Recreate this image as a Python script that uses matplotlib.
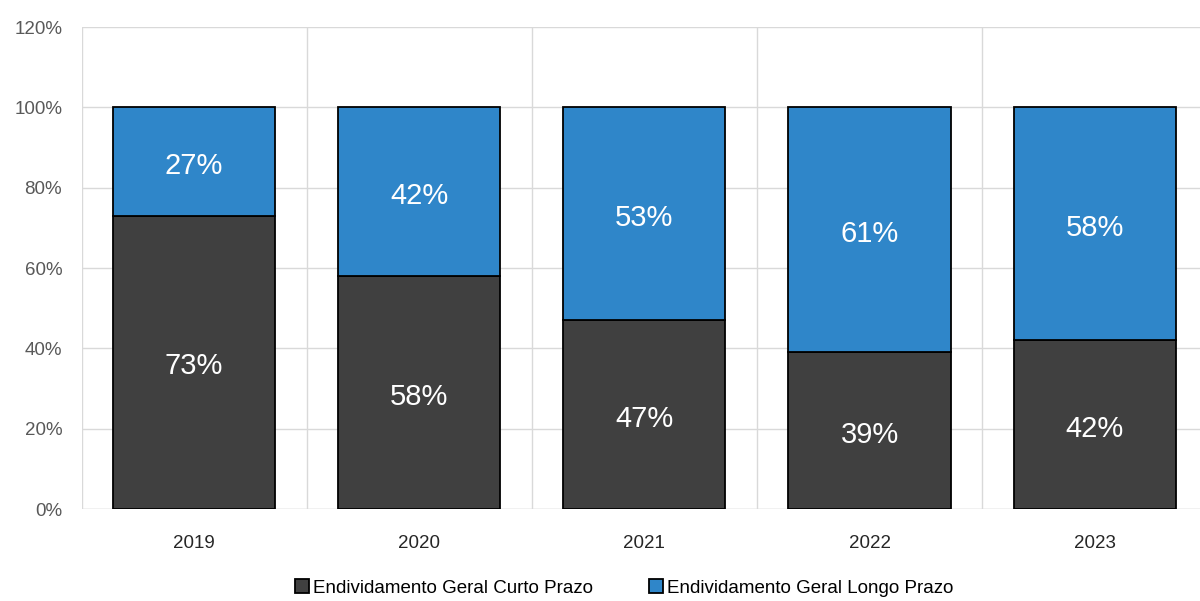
import matplotlib.pyplot as plt
import numpy as np

plt.rcParams['font.family'] = ['Liberation Sans', 'DejaVu Sans']

anos = ['2019', '2020', '2021', '2022', '2023']
curto = [73, 58, 47, 39, 42]
longo = [27, 42, 53, 61, 58]
cor_curto = '#404040'
cor_longo = '#2f86c9'

fig = plt.figure(figsize=(12, 6.01), dpi=100)
ax = fig.add_axes([0.068, 0.153, 0.938, 0.802])

x = np.arange(len(anos))
ax.bar(x, curto, width=0.72, color=cor_curto, edgecolor='black', linewidth=1.3,
       label='Endividamento Geral Curto Prazo', zorder=3)
ax.bar(x, longo, width=0.72, bottom=curto, color=cor_longo, edgecolor='black', linewidth=1.3,
       label='Endividamento Geral Longo Prazo', zorder=3)

for i in range(len(anos)):
    ax.text(x[i], curto[i] / 2 - 1, f'{curto[i]}%', ha='center', va='center',
            color='white', fontsize=21, zorder=4)
    ax.text(x[i], curto[i] + longo[i] / 2 - 1, f'{longo[i]}%', ha='center', va='center',
            color='white', fontsize=21, zorder=4)

ax.set_xlim(-0.5, len(anos) - 0.5)
ax.set_ylim(0, 120)
ax.set_yticks(range(0, 121, 20))
ax.set_yticklabels([f'{v}%' for v in range(0, 121, 20)], color='#595959', fontsize=13.5)
ax.set_xticks(x)
ax.set_xticklabels(anos, fontsize=13.5, color='#262626')
ax.set_xticks(np.arange(-0.5, len(anos), 1), minor=True)
ax.grid(axis='y', color='#d9d9d9', linewidth=1, zorder=0)
ax.grid(axis='x', which='minor', color='#d9d9d9', linewidth=1, zorder=0)
ax.tick_params(axis='both', which='both', length=0)
ax.tick_params(axis='x', pad=19)
ax.tick_params(axis='y', pad=14)
for s in ax.spines.values():
    s.set_visible(False)
ax.axhline(0, color='#d9d9d9', linewidth=1, zorder=1)

ax.legend(loc='upper center', bbox_to_anchor=(0.482, -0.13), ncol=2, frameon=False,
          fontsize=13.5, handlelength=0.75, handleheight=0.75, handletextpad=0.2,
          columnspacing=3.0, borderaxespad=0)

fig.savefig('out.png', dpi=100)
